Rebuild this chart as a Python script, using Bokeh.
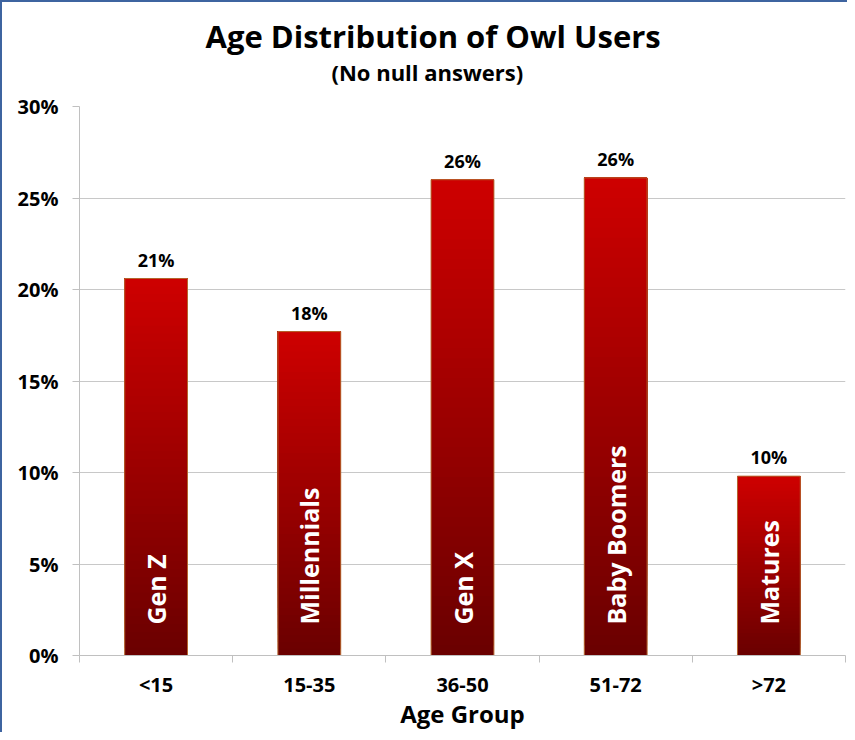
import math
from bokeh.plotting import figure
from bokeh.models import ColumnDataSource, FixedTicker, PrintfTickFormatter, Range1d, Title
from bokeh.core.properties import value
from bokeh.embed import file_html
from bokeh.resources import INLINE

# ---- data ----
age_groups = ["<15", "15-35", "36-50", "51-72", ">72"]
generations = ["Gen Z", "Millennials", "Gen X", "Baby Boomers", "Matures"]
shares = [20.6, 17.7, 26.0, 26.1, 9.8]
y_ticks = [0, 5, 10, 15, 20, 25, 30]
title_text = "Age Distribution of Owl Users"
subtitle_text = "(No null answers)"
x_title = "Age Group"

FONT = "Open Sans"
W, H = 847, 732
ML, MR, MT, MB = 77, 4, 104, 79

p = figure(width=W, height=H, output_backend="svg", toolbar_location=None,
           x_range=Range1d(0, len(age_groups)), y_range=Range1d(0, 30),
           min_border_left=ML, min_border_right=MR, min_border_top=MT, min_border_bottom=MB,
           background_fill_color="white", border_fill_color="white")
p.outline_line_color = None
p.styles = {"border-top": "2px solid #3e64a0", "border-left": "2px solid #3e64a0"}

centers = [i + 0.5 for i in range(len(age_groups))]

# gradient bars (layered, bottom dark -> top bright)
N = 48
dark = (106, 0, 0)
bright = (206, 0, 0)
xs, bots, tops, cols = [], [], [], []
for k in range(N):
    f = k / N
    t = (k + 0.5) / N
    c = tuple(int(round(dark[j] + (bright[j] - dark[j]) * t)) for j in range(3))
    hexc = "#%02x%02x%02x" % c
    for cx, v in zip(centers, shares):
        xs.append(cx); bots.append(f * v); tops.append(v); cols.append(hexc)
src = ColumnDataSource(dict(x=xs, bottom=bots, top=tops, color=cols))
BW = 0.41
p.vbar(x="x", bottom="bottom", top="top", width=BW, fill_color="color",
       line_color=None, source=src)
p.vbar(x=centers, bottom=0, top=shares, width=BW, fill_alpha=0,
       line_color="#b5652d", line_width=1)

# value labels
p.text(x=centers, y=shares, text=[f"{round(v)}%" for v in shares], y_offset=-7,
       text_align="center", text_baseline="bottom", text_font=value(FONT),
       text_font_style="bold", text_font_size="18px", text_color="black")

# inner generation labels
p.text(x=centers, y=[0] * len(centers), text=generations, angle=math.pi / 2,
       y_offset=-31, text_align="left", text_baseline="middle",
       text_font=value(FONT), text_font_style="bold", text_font_size="25px",
       text_color="white")

# axes
p.yaxis.ticker = FixedTicker(ticks=y_ticks)
p.yaxis.formatter = PrintfTickFormatter(format="%d%%")
p.yaxis.major_tick_out = 7
p.yaxis.major_tick_in = 0
p.yaxis.minor_tick_line_color = None
p.yaxis.axis_line_color = "#c0c0c0"
p.yaxis.major_tick_line_color = "#c0c0c0"
p.yaxis.major_label_standoff = 14
p.yaxis.major_label_text_font = FONT
p.yaxis.major_label_text_font_style = "bold"
p.yaxis.major_label_text_font_size = "20px"
p.yaxis.major_label_text_color = "black"

p.xaxis.ticker = FixedTicker(ticks=centers, minor_ticks=list(range(len(age_groups) + 1)))
p.xaxis.major_label_overrides = {c: g for c, g in zip(centers, age_groups)}
p.xaxis.major_tick_out = 0
p.xaxis.major_tick_in = 0
p.xaxis.minor_tick_out = 7
p.xaxis.minor_tick_in = 0
p.xaxis.minor_tick_line_color = "#c0c0c0"
p.xaxis.axis_line_color = "#c0c0c0"
p.xaxis.major_label_standoff = 8
p.xaxis.major_label_text_font = FONT
p.xaxis.major_label_text_font_style = "bold"
p.xaxis.major_label_text_font_size = "20px"
p.xaxis.major_label_text_color = "black"
p.xaxis.axis_label = x_title
p.xaxis.axis_label_standoff = -4
p.xaxis.axis_label_text_font = FONT
p.xaxis.axis_label_text_font_style = "bold"
p.xaxis.axis_label_text_font_size = "24px"
p.xaxis.axis_label_text_color = "black"

p.xgrid.visible = False
p.ygrid.grid_line_color = "#c8c8c8"
p.ygrid.ticker = FixedTicker(ticks=y_ticks)

# titles
p.add_layout(Title(text=subtitle_text, align="left", offset=252, text_font=FONT,
                   text_font_style="bold", text_font_size="22px", text_color="black",
                   standoff=40), "above")
p.add_layout(Title(text=title_text, align="left", offset=126, text_font=FONT,
                   text_font_style="bold", text_font_size="31px", text_color="black",
                   standoff=-44), "above")

open("out.html", "w").write(file_html(p, INLINE))
